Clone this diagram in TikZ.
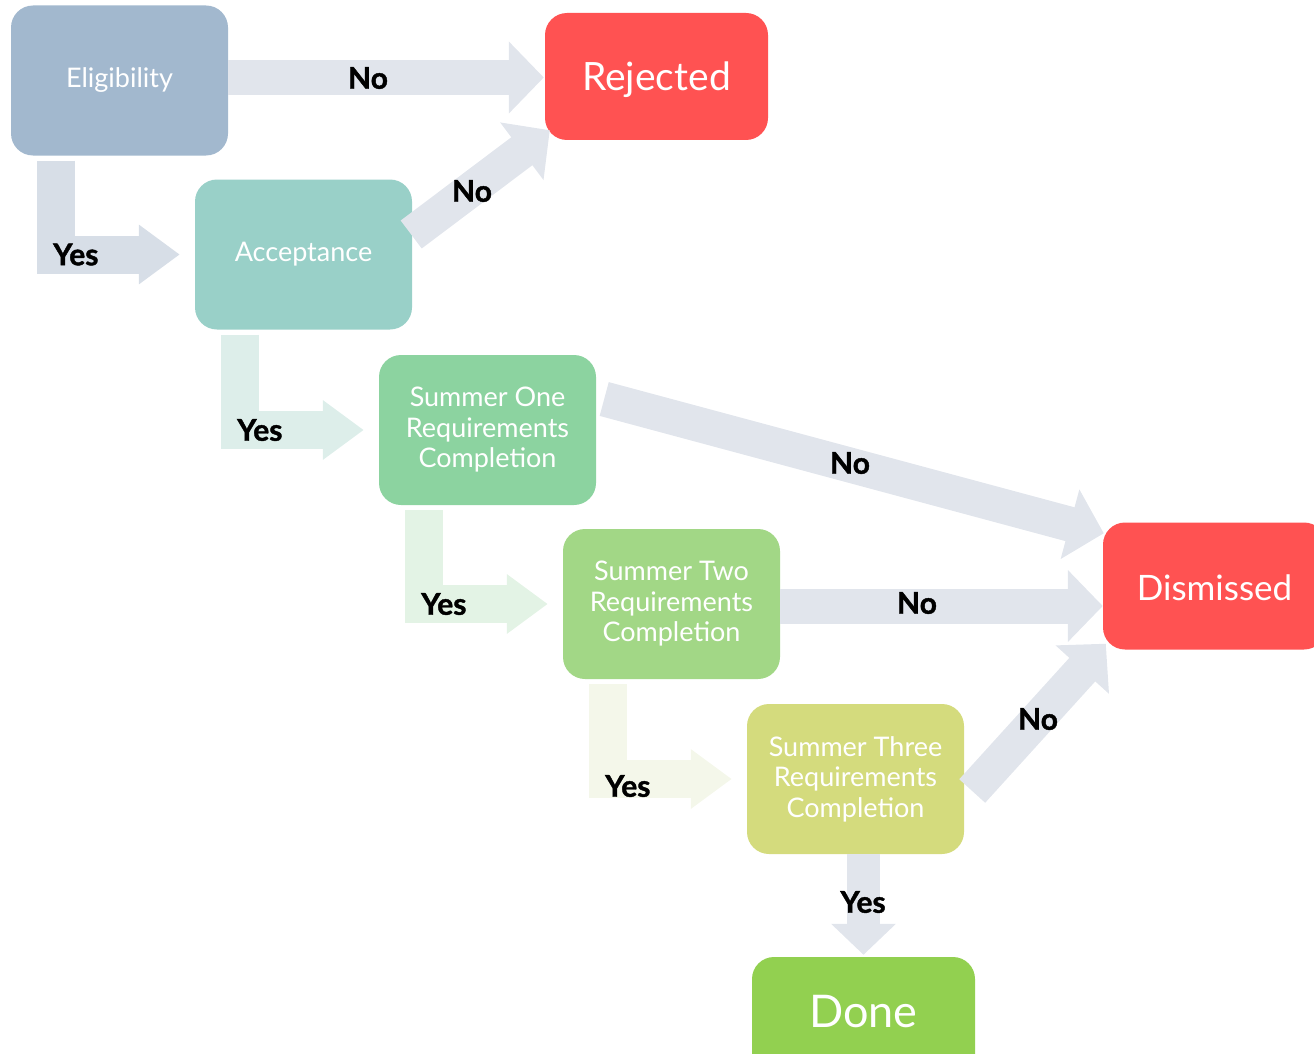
\documentclass[tikz,border=0pt]{standalone}
\usepackage{fontspec}
\setmainfont{Lato}
\newfontfamily\lblfont{Lato}[BoldFeatures={FakeBold=1.4}]
\usetikzlibrary{arrows.meta,calc}

\definecolor{eligblue}{HTML}{A2B8CE}
\definecolor{accteal}{HTML}{99D0C8}
\definecolor{sumone}{HTML}{8CD3A0}
\definecolor{sumtwo}{HTML}{A2D786}
\definecolor{sumthree}{HTML}{D4DB7D}
\definecolor{donegreen}{HTML}{92D050}
\definecolor{stopred}{HTML}{FF5252}
\definecolor{arrgray}{HTML}{E1E5EC}
\definecolor{yesA}{HTML}{D7DEE7}
\definecolor{yesB}{HTML}{DDEEEA}
\definecolor{yesC}{HTML}{E3F3E5}
\definecolor{yesD}{HTML}{F4F7EA}

\begin{document}
\begin{tikzpicture}[x=1pt,y=-1pt,
    box/.style={rounded corners=22pt, minimum width=217pt, minimum height=150pt, inner sep=0pt,
      text=white, align=center, font=\fontsize{27}{30.5}\selectfont},
    endbox/.style={rounded corners=22pt, minimum width=223pt, minimum height=127pt, inner sep=0pt, text=white},
    lbl/.style={font=\fontsize{30}{32}\lblfont\bfseries},
    noarr/.style={draw=arrgray, line width=35pt, -{Triangle[length=35pt,width=70pt]}},
    yesarr/.style={line width=38pt, -{Triangle[length=41pt,width=57pt]}}]
  \path[use as bounding box, clip] (0,0) rectangle (1314,1054);

  % boxes
  \node[box, fill=eligblue] (elig) at (119.5,80.5) {Eligibility};
  \node[box, fill=accteal] (acc) at (303.5,254.5) {Acceptance};
  \node[box, fill=sumone] (s1) at (487.5,430) {Summer One\\Requirements\\Completion};
  \node[box, fill=sumtwo] (s2) at (671.5,604) {Summer Two\\Requirements\\Completion};
  \node[box, fill=sumthree] (s3) at (855.5,779) {Summer Three\\Requirements\\Completion};
  \node[endbox, fill=stopred, font=\fontsize{39}{42}\selectfont] (rej) at (656.5,76.5)
    {\raisebox{-3pt}[\height][\depth]{Rejected}};
  \node[endbox, fill=stopred, font=\fontsize{35}{38}\selectfont] (dis) at (1214.5,586)
    {\raisebox{-2pt}[\height][\depth]{Dismissed}};
  \node[endbox, fill=donegreen, font=\fontsize{45}{48}\selectfont] (done) at (863.5,1020.5)
    {\raisebox{9pt}[\height][\depth]{Done}};

  % yes steps
  \foreach \a/\b/\col/\dy [count=\i] in {elig/acc/yesA/0,acc/s1/yesB/0,s1/s2/yesC/0,s2/s3/yesD/7} {
    \draw[yesarr, draw=\col] ([xshift=45pt,yshift=-5pt]\a.south west) |- ([xshift=-15pt]\b.west);
    \node[lbl] (yes\i) at ($(\a.south west |- \b.west)+(65,\dy)$) {Yes};
  }
  \draw[draw=arrgray, line width=33pt, -{Triangle[length=31pt,width=63pt]}]
    (done.north |- s3.south) -- ([yshift=2pt]done.north);
  \node[lbl] (yes5) at (863,902) {Yes};

  % no branches
  \draw[noarr] (elig.east |- 0,77.5) -- ([xshift=-1pt]rej.west |- 0,77.5);
  \draw[noarr] ([xshift=-1pt,yshift=20pt]acc.east) -- ([xshift=5pt,yshift=10pt]rej.south west);
  \draw[noarr] ([xshift=8pt,yshift=31pt]s1.east) -- ([xshift=1pt,yshift=-11pt]dis.north west);
  \draw[noarr] ([yshift=-2pt]s2.east) -- ([yshift=-2pt]s2.east -| dis.west);
  \draw[noarr] ([xshift=8pt,yshift=-12pt]s3.east) -- ([xshift=3pt,yshift=6pt]dis.south west);
  \node[lbl] (no1) at (368,78) {No};
  \node[lbl] (no2) at (472,191) {No};
  \node[lbl] (no3) at (850,463) {No};
  \node[lbl] (no4) at (917,603) {No};
  \node[lbl] (no5) at (1038,719) {No};
\end{tikzpicture}
\end{document}
